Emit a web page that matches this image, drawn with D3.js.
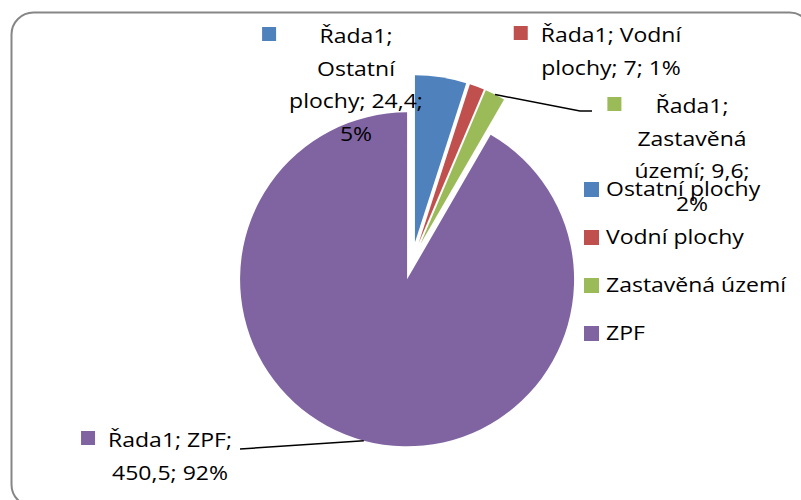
<!DOCTYPE html>
<html>
<head>
<meta charset="utf-8">
<script src="https://cdn.jsdelivr.net/npm/d3@7"></script>
<style>
  body { margin: 0; background: #fff; }
  svg { display: block; }
</style>
</head>
<body>
<div id="chart"></div>
<script>
// data
const seriesName = 'Řada1';
const categories = ['Ostatní plochy', 'Vodní plochy', 'Zastavěná území', 'ZPF'];
const values = [24.4, 7, 9.6, 450.5];
const colors = ['#4F81BD', '#C0504D', '#9BBB59', '#8064A2'];

// layout
const width = 801;
const height = 500;
const center = [412, 261];
const radius = 167;
const explode = 19;
const font = { family: "'Open Sans', sans-serif", size: 20, stretch: 1.15, lineHeight: 32.5 };

// data label placement: centre x, first baseline, wrap width, leader bend points
const labelLayout = [
  { cx: 356, y: 43, wrap: 150 },
  { cx: 611, y: 42, wrap: 155 },
  { cx: 692, y: 113, wrap: 128, leader: [[580, 111], [592, 111]] },
  { cx: 170, y: 447, wrap: 135, leader: [[240, 449]] },
];
const legendLayout = { x: 584, y: 182, step: 48, box: 15 };

const svg = d3.select('#chart')
  .append('svg')
  .attr('width', width)
  .attr('height', height);

// chart frame
svg.append('rect')
  .attr('x', 11.5)
  .attr('y', 12.5)
  .attr('width', 800)
  .attr('height', 494)
  .attr('rx', 22)
  .attr('fill', '#fff')
  .attr('stroke', '#868686')
  .attr('stroke-width', 2);

const total = d3.sum(values);
const fmtValue = (v) => String(v).replace('.', ',');

const arcs = d3.pie().sort(null).value((d) => d)(values)
  .map((a, i) => {
    const mid = (a.startAngle + a.endAngle) / 2;
    return {
      ...a,
      i,
      mid,
      dx: Math.sin(mid) * explode,
      dy: -Math.cos(mid) * explode,
    };
  });

const arc = d3.arc().innerRadius(0).outerRadius(radius);

const gPie = svg.append('g')
  .attr('transform', `translate(${center})`);

gPie.selectAll('path')
  .data(arcs)
  .join('path')
  .attr('transform', (d) => `translate(${d.dx},${d.dy})`)
  .attr('fill', (d) => colors[d.i])
  .attr('d', arc);

// leader lines
svg.append('g')
  .selectAll('path')
  .data(arcs.filter((d) => labelLayout[d.i].leader))
  .join('path')
  .attr('fill', 'none')
  .attr('stroke', '#000')
  .attr('stroke-width', 1.5)
  .attr('d', (d) => {
    const p = d3.pointRadial(d.mid, radius);
    const start = [center[0] + d.dx + p[0], center[1] + d.dy + p[1]];
    return d3.line()([start, ...labelLayout[d.i].leader]);
  });

const styleText = (sel) => sel
  .attr('font-family', font.family)
  .attr('font-size', font.size)
  .attr('fill', '#000');

// data labels
const gLabels = svg.append('g').attr('class', 'labels');

arcs.forEach((d) => {
  const lay = labelLayout[d.i];
  const pct = Math.round((d.value / total) * 100);
  const words = `${seriesName}; ${categories[d.i]}; ${fmtValue(d.value)}; ${pct}%`.split(' ');

  const g = gLabels.append('g');
  const probe = g.append('text').call(styleText);
  const measure = (s) => probe.text(s).node().getComputedTextLength() * font.stretch;

  const lines = [];
  let line = '';
  words.forEach((w) => {
    const test = line ? `${line} ${w}` : w;
    if (line && measure(test) > lay.wrap) {
      lines.push(line);
      line = w;
    } else {
      line = test;
    }
  });
  lines.push(line);
  const maxW = d3.max(lines, measure);
  probe.remove();

  g.selectAll('text')
    .data(lines)
    .join('text')
    .call(styleText)
    .attr('text-anchor', 'middle')
    .attr('transform', (_, k) => `translate(${lay.cx},${lay.y + k * font.lineHeight}) scale(${font.stretch},1)`)
    .text((s) => s);

  g.append('rect')
    .attr('x', lay.cx - maxW / 2 - 27)
    .attr('y', lay.y - 16)
    .attr('width', 14)
    .attr('height', 14)
    .attr('fill', colors[d.i]);
});

// legend
const gLegend = svg.append('g')
  .attr('class', 'legend')
  .selectAll('g')
  .data(categories)
  .join('g')
  .attr('transform', (_, i) => `translate(${legendLayout.x},${legendLayout.y + i * legendLayout.step})`);

gLegend.append('rect')
  .attr('width', legendLayout.box)
  .attr('height', legendLayout.box)
  .attr('fill', (_, i) => colors[i]);

gLegend.append('text')
  .call(styleText)
  .attr('transform', `translate(22,14) scale(${font.stretch},1)`)
  .text((d) => d);
</script>
</body>
</html>
